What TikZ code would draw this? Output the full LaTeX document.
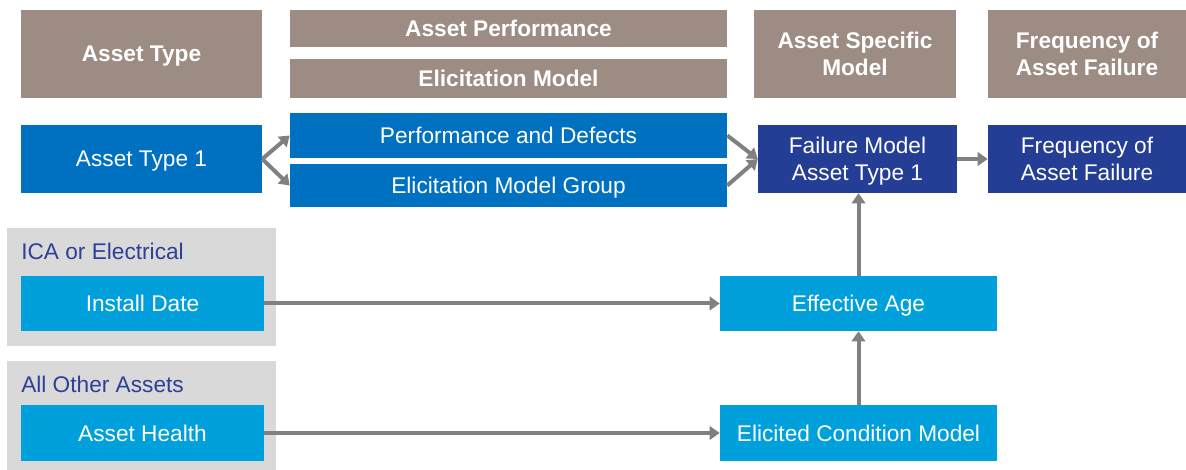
\documentclass[tikz,border=0pt]{standalone}
\usepackage{fontspec}
\setmainfont{Liberation Sans}
\usetikzlibrary{arrows.meta}

\definecolor{hdrbrown}{RGB}{157,140,131}
\definecolor{midblue}{RGB}{0,112,192}
\definecolor{darkblue}{RGB}{36,62,150}
\definecolor{lightblue}{RGB}{0,160,220}
\definecolor{grpgray}{RGB}{217,217,217}
\definecolor{arrgray}{RGB}{128,128,128}
\definecolor{lblblue}{RGB}{46,64,150}

\tikzset{
  box/.style={inner sep=0pt, text=white, align=center, text depth=0pt, font=\fontsize{17}{20}\selectfont},
  hdr/.style={box, fill=hdrbrown, font=\fontsize{17}{20}\selectfont\bfseries},
  grp/.style={inner sep=0pt, fill=grpgray},
  flow/.style={draw=arrgray, line width=3pt, -{Triangle[length=7.5pt,width=10pt]}}
}

\begin{document}
\begin{tikzpicture}[x=0.75pt,y=0.75pt,yscale=-1,xscale=1]
\useasboundingbox (0,0) rectangle (1186,470);

% Header row
\node [hdr, minimum width=180.75pt, minimum height=66pt] (hType) at (141.5,54) {Asset Type};
\node [hdr, minimum width=327.75pt, minimum height=27.75pt] (hPerf) at (508.5,28.5) {Asset Performance};
\node [hdr, minimum width=327.75pt, minimum height=29.25pt] (hElic) at (508.5,78.5) {Elicitation Model};
\node [hdr, minimum width=151.5pt, minimum height=66pt] (hSpec) at (855,54) {Asset Specific\\Model};
\node [hdr, minimum width=148.5pt, minimum height=66pt] (hFreq) at (1087,54) {Frequency of\\Asset Failure};

% Model row
\node [box, fill=midblue, minimum width=180.75pt, minimum height=51pt] (type1) at (141.5,159) {Asset Type 1};
\node [box, fill=midblue, minimum width=327.75pt, minimum height=33.75pt] (perf) at (508.5,135.5) {Performance and Defects};
\node [box, fill=midblue, minimum width=327.75pt, minimum height=32.25pt] (elic) at (508.5,185.5) {Elicitation Model Group};
\node [box, fill=darkblue, minimum width=149.25pt, minimum height=51pt] (fail) at (857.5,159) {Failure Model\\Asset Type 1};
\node [box, fill=darkblue, minimum width=148.5pt, minimum height=51pt] (freq) at (1087,159) {Frequency of\\Asset Failure};

% Group boxes
\node [grp, minimum width=201.75pt, minimum height=88.5pt] (grpICA) at (141.5,287) {};
\node [grp, minimum width=201.75pt, minimum height=81.75pt] (grpOther) at (141.5,415.5) {};
\node [anchor=west, inner sep=0pt, text=lblblue, font=\fontsize{17}{20}\selectfont] (lblICA) at (21,251) {ICA or Electrical};
\node [anchor=west, inner sep=0pt, text=lblblue, font=\fontsize{17}{20}\selectfont] (lblOther) at (21,384) {All Other Assets};

% Inputs
\node [box, fill=lightblue, minimum width=182.25pt, minimum height=41.25pt] (install) at (142.5,303.5) {Install Date};
\node [box, fill=lightblue, minimum width=182.25pt, minimum height=42pt] (health) at (142.5,433) {Asset Health};
\node [box, fill=lightblue, minimum width=207.75pt, minimum height=41.25pt] (effAge) at (858.5,303.5) {Effective Age};
\node [box, fill=lightblue, minimum width=207.75pt, minimum height=42pt] (elicCond) at (858.5,433) {Elicited Condition Model};

% Arrows
\draw [flow] (type1.east) -- (perf.west);
\draw [flow] (type1.east) -- (elic.west);
\draw [flow] (perf.east) -- (fail.west);
\draw [flow] (elic.east) -- (fail.west);
\draw [flow] (fail.east) -- (freq.west);
\draw [flow] (install.east) -- (effAge.west);
\draw [flow] (health.east) -- (elicCond.west);
\draw [flow] (elicCond.north) -- (effAge.south);
\draw [flow] (effAge.north) -- (effAge.north |- fail.south);

\end{tikzpicture}
\end{document}
